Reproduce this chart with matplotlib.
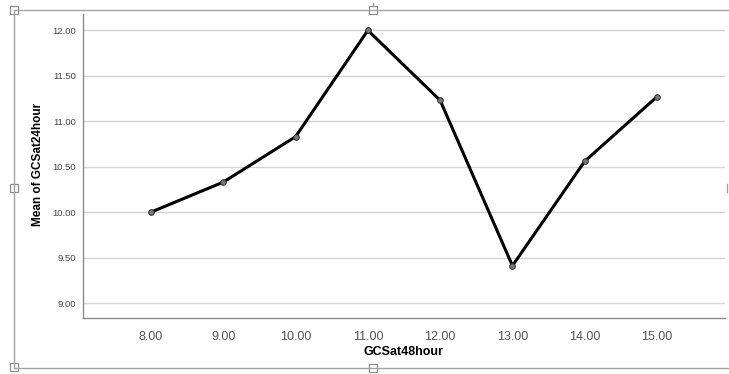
import numpy as np
from matplotlib import pyplot as plt
from matplotlib.patches import Rectangle
from matplotlib.lines import Line2D

plt.rcParams['font.family'] = ['Liberation Sans', 'DejaVu Sans']

# data
gcs48 = [8.0, 9.0, 10.0, 11.0, 12.0, 13.0, 14.0, 15.0]
mean_gcs24 = [10.00, 10.33, 10.83, 12.00, 11.23, 9.41, 10.56, 11.27]
yticks = [9.0, 9.5, 10.0, 10.5, 11.0, 11.5, 12.0]

W, H = 729, 374
fig = plt.figure(figsize=(W / 100, H / 100), dpi=100)
fig.patch.set_facecolor('white')

ax_l, ax_r, ax_t, ax_b = 83, 725, 14, 318
ax = fig.add_axes([ax_l / W, 1 - ax_b / H, (ax_r - ax_l) / W, (ax_b - ax_t) / H])
ax.set_xlim(7.06, 15.94)
ax.set_ylim(8.835, 12.18)

ax.set_yticks(yticks)
ax.set_yticklabels(['%.2f' % v for v in yticks], fontsize=6.8, color='#444444')
ax.set_xticks(gcs48)
ax.set_xticklabels(['%.2f' % v for v in gcs48], fontsize=9, color='#555555')
ax.tick_params(axis='both', length=0)
ax.tick_params(axis='y', pad=5)
ax.tick_params(axis='x', pad=9)

ax.grid(axis='y', color='#d4d4d4', linewidth=1.0)
ax.set_axisbelow(True)
for side in ['top', 'right']:
	ax.spines[side].set_visible(False)
for side in ['left', 'bottom']:
	ax.spines[side].set_color('#8a8a8a')
	ax.spines[side].set_linewidth(1.0)

ax.plot(gcs48, mean_gcs24, color='black', linewidth=2.2, marker='o', markersize=4,
		markerfacecolor='#7a7a7a', markeredgecolor='#333333', markeredgewidth=0.8, zorder=3)

ax.set_xlabel('GCSat48hour', fontsize=9, fontweight='bold', va='center')
ax.set_ylabel('Mean of GCSat24hour', fontsize=8.5, fontweight='bold', va='center')
ax.xaxis.set_label_coords((403 - ax_l) / (ax_r - ax_l), (ax_b - 352) / (ax_b - ax_t))
ax.yaxis.set_label_coords((38 - ax_l) / (ax_r - ax_l), (ax_b - 164) / (ax_b - ax_t))

# selection frame and handles around the chart
def fx(x):
	return x / W

def fy(y):
	return 1 - y / H

frame = '#a3a3a3'
fig.add_artist(Line2D([fx(14), fx(729)], [fy(10), fy(10)], color=frame, linewidth=1.0))
fig.add_artist(Line2D([fx(14), fx(729)], [fy(368), fy(368)], color=frame, linewidth=1.0))
fig.add_artist(Line2D([fx(14), fx(14)], [fy(10), fy(368)], color=frame, linewidth=1.0))
fig.add_artist(Line2D([fx(373), fx(373)], [fy(3), fy(6)], color=frame, linewidth=1.0))
fig.add_artist(Line2D([fx(727), fx(727)], [fy(184), fy(192)], color=frame, linewidth=1.0))
for hx, hy in [(14, 10), (14, 188), (14, 367), (373, 10), (373, 368)]:
	fig.add_artist(Rectangle((fx(hx - 4), fy(hy + 4)), 8 / W, 8 / H, facecolor='white',
							 edgecolor='#8f8f8f', linewidth=0.9))

plt.savefig('out.png', dpi=100)
